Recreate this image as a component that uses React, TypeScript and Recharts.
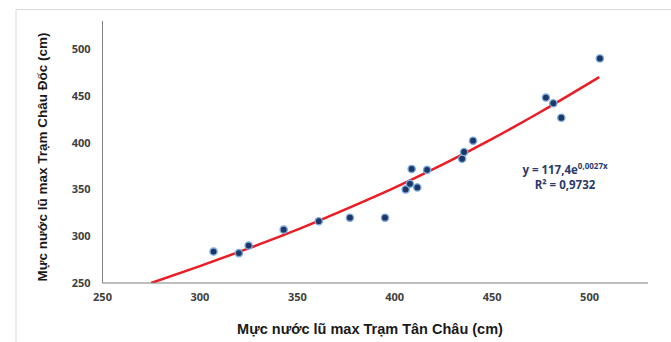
import React from "react";
import { ComposedChart, Scatter, Line, XAxis, YAxis } from "recharts";

// observed max flood levels (cm): Tân Châu (x) vs Châu Đốc (y)
const tanChau = [307, 320, 325, 343, 361, 377, 395, 405.6, 407.8, 408.7, 411.6, 416.6, 434.6, 435.6, 440.2, 477.6, 481.4, 485.5, 505.3];
const chauDoc = [283.6, 281.9, 290, 307, 316, 319.8, 319.8, 350, 356, 371.9, 352.1, 370.9, 382.8, 390, 402.1, 448.2, 442.1, 426.6, 490];

// exponential trend line
const trendX = [275, 300, 325, 350, 375, 400, 425, 450, 475, 505];
const trendY = [250, 268, 287, 307, 329, 352, 377, 404, 433, 470];

const xTicks = [250, 300, 350, 400, 450, 500];
const yTicks = [250, 300, 350, 400, 450, 500];

const points = tanChau.map((x, i) => ({ x, y: chauDoc[i] }));
const trend = trendX.map((x, i) => ({ x, y: trendY[i] }));

const tickStyle = { fontSize: 11, fontWeight: 700, fill: "#404040", fontFamily: "'Open Sans', sans-serif" };

const Dot = (props: any) => {
  const { cx, cy } = props;
  return <circle cx={cx} cy={cy} r={3.6} fill="#1c3765" stroke="#7aa9dc" strokeWidth={1.4} />;
};

export default function App() {
  return (
    <div style={{ position: "fixed", left: 0, top: 0, width: 671, height: 342, background: "#fff" }}>
      <ComposedChart width={671} height={342} margin={{ top: 21, right: 23, bottom: 21, left: 22 }}>
        <XAxis
          type="number"
          dataKey="x"
          domain={[250, 530]}
          ticks={xTicks}
          allowDataOverflow
          tickLine={false}
          axisLine={{ stroke: "#7f7f7f" }}
          tick={tickStyle}
          tickMargin={4}
          height={38}
        />
        <YAxis
          type="number"
          dataKey="y"
          domain={[250, 530]}
          ticks={yTicks}
          allowDataOverflow
          tickLine={false}
          axisLine={{ stroke: "#7f7f7f" }}
          tick={tickStyle}
          tickMargin={6}
          width={80.5}
        />
        <Line
          data={trend}
          dataKey="y"
          type="monotone"
          stroke="#ec1c24"
          strokeWidth={2.5}
          dot={false}
          isAnimationActive={false}
        />
        <Scatter data={points} dataKey="y" shape={<Dot />} isAnimationActive={false} />
      </ComposedChart>
      <svg width={671} height={342} style={{ position: "absolute", left: 0, top: 0, pointerEvents: "none" }}>
        <polyline points="16,342 16,9.5 671,9.5" fill="none" stroke="#d9d9d9" strokeWidth={1} />
        <text
          x={0}
          y={0}
          transform="translate(47,157) rotate(-90)"
          textAnchor="middle"
          fontFamily="'Liberation Sans', Arial, sans-serif"
          fontWeight={700}
          fontSize={13.5}
          fill="#1a1a1a"
        >
          Mực nước lũ max Trạm Châu Đốc (cm)
        </text>
        <text
          x={370}
          y={334}
          textAnchor="middle"
          fontFamily="'Liberation Sans', Arial, sans-serif"
          fontWeight={700}
          fontSize={14.5}
          fill="#1a1a1a"
        >
          Mực nước lũ max Trạm Tân Châu (cm)
        </text>
        <text
          x={565}
          y={174}
          textAnchor="middle"
          fontFamily="'Open Sans', sans-serif"
          fontWeight={700}
          fontSize={11.5}
          fill="#2b3a6b"
        >
          y = 117,4e
          <tspan fontSize={8} dy={-5}>0,0027x</tspan>
        </text>
        <text
          x={565}
          y={189}
          textAnchor="middle"
          fontFamily="'Open Sans', sans-serif"
          fontWeight={700}
          fontSize={11.5}
          fill="#2b3a6b"
        >
          R² = 0,9732
        </text>
      </svg>
    </div>
  );
}
